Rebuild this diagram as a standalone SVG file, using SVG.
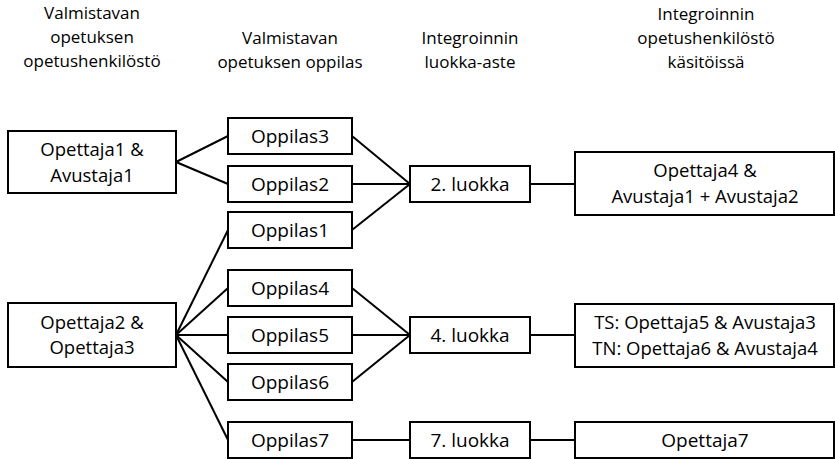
<svg xmlns="http://www.w3.org/2000/svg" width="835" height="459" viewBox="0 0 835 459">
<style>
  rect.box { fill: #ffffff; stroke: #000000; stroke-width: 2; }
  text { font-family: "Open Sans", "Noto Sans", sans-serif; fill: #000000; text-anchor: middle; }
  text.hdr { font-size: 17px; }
  text.lbl { font-size: 19px; }
  text.lbl2 { font-size: 18.5px; }
  #connectors line { stroke: #000000; stroke-width: 2; fill: none; }
</style>
<rect x="0" y="0" width="835" height="459" fill="#ffffff"/>
<g id="headers">
  <text class="hdr" x="92" y="19">Valmistavan<tspan x="92" dy="24">opetuksen</tspan><tspan x="92" dy="24">opetushenkilöstö</tspan></text>
  <text class="hdr" x="290" y="44">Valmistavan<tspan x="290" dy="24">opetuksen oppilas</tspan></text>
  <text class="hdr" x="470" y="44">Integroinnin<tspan x="470" dy="24">luokka-aste</tspan></text>
  <text class="hdr" x="706" y="20">Integroinnin<tspan x="706" dy="24">opetushenkilöstö</tspan><tspan x="706" dy="24">käsitöissä</tspan></text>
</g>
<g id="connectors">
  <line x1="176" y1="162" x2="228" y2="136"/>
  <line x1="176" y1="162" x2="228" y2="184"/>
  <line x1="352" y1="136" x2="410" y2="184"/>
  <line x1="352" y1="184" x2="410" y2="184"/>
  <line x1="352" y1="230" x2="410" y2="184"/>
  <line x1="530" y1="184" x2="575" y2="184"/>
  <line x1="176" y1="335" x2="228" y2="230"/>
  <line x1="176" y1="335" x2="228" y2="288"/>
  <line x1="176" y1="335" x2="228" y2="335"/>
  <line x1="176" y1="335" x2="228" y2="382"/>
  <line x1="176" y1="335" x2="228" y2="440"/>
  <line x1="352" y1="288" x2="410" y2="335"/>
  <line x1="352" y1="335" x2="410" y2="335"/>
  <line x1="352" y1="382" x2="410" y2="335"/>
  <line x1="530" y1="335" x2="575" y2="335"/>
  <line x1="352" y1="440" x2="410" y2="440"/>
  <line x1="530" y1="440" x2="575" y2="440"/>
</g>
<g id="opettaja1">
  <rect class="box" x="8" y="131" width="168" height="62"/>
  <text class="lbl2" x="92" y="156">Opettaja1 &amp;<tspan x="92" dy="25.5">Avustaja1</tspan></text>
</g>
<g id="oppilas3">
  <rect class="box" x="228" y="118" width="124" height="36"/>
  <text class="lbl" x="290" y="142.5">Oppilas3</text>
</g>
<g id="oppilas2">
  <rect class="box" x="228" y="166" width="124" height="36"/>
  <text class="lbl" x="290" y="190.5">Oppilas2</text>
</g>
<g id="oppilas1">
  <rect class="box" x="228" y="212" width="124" height="36"/>
  <text class="lbl" x="290" y="236.5">Oppilas1</text>
</g>
<g id="luokka2">
  <rect class="box" x="410" y="166" width="120" height="36"/>
  <text class="lbl" x="470" y="190.5">2. luokka</text>
</g>
<g id="henkilosto2">
  <rect class="box" x="575" y="152" width="259" height="63"/>
  <text class="lbl2" x="705" y="177.3">Opettaja4 &amp;<tspan x="705" dy="25.5">Avustaja1 + Avustaja2</tspan></text>
</g>
<g id="opettaja2">
  <rect class="box" x="8" y="303" width="168" height="64"/>
  <text class="lbl2" x="92" y="328.8">Opettaja2 &amp;<tspan x="92" dy="25.5">Opettaja3</tspan></text>
</g>
<g id="oppilas4">
  <rect class="box" x="228" y="270" width="124" height="36"/>
  <text class="lbl" x="290" y="294.5">Oppilas4</text>
</g>
<g id="oppilas5">
  <rect class="box" x="228" y="317" width="124" height="36"/>
  <text class="lbl" x="290" y="341.5">Oppilas5</text>
</g>
<g id="oppilas6">
  <rect class="box" x="228" y="364" width="124" height="36"/>
  <text class="lbl" x="290" y="388.5">Oppilas6</text>
</g>
<g id="oppilas7">
  <rect class="box" x="228" y="422" width="124" height="36"/>
  <text class="lbl" x="290" y="446.5">Oppilas7</text>
</g>
<g id="luokka4">
  <rect class="box" x="410" y="317" width="120" height="36"/>
  <text class="lbl" x="470" y="341.5">4. luokka</text>
</g>
<g id="henkilosto4">
  <rect class="box" x="575" y="304" width="259" height="63"/>
  <text class="lbl2" x="705" y="329.3">TS: Opettaja5 &amp; Avustaja3<tspan x="705" dy="25.5">TN: Opettaja6 &amp; Avustaja4</tspan></text>
</g>
<g id="luokka7">
  <rect class="box" x="410" y="422" width="120" height="36"/>
  <text class="lbl" x="470" y="446.5">7. luokka</text>
</g>
<g id="henkilosto7">
  <rect class="box" x="575" y="422" width="259" height="36"/>
  <text class="lbl" x="705" y="446.5">Opettaja7</text>
</g>
</svg>
